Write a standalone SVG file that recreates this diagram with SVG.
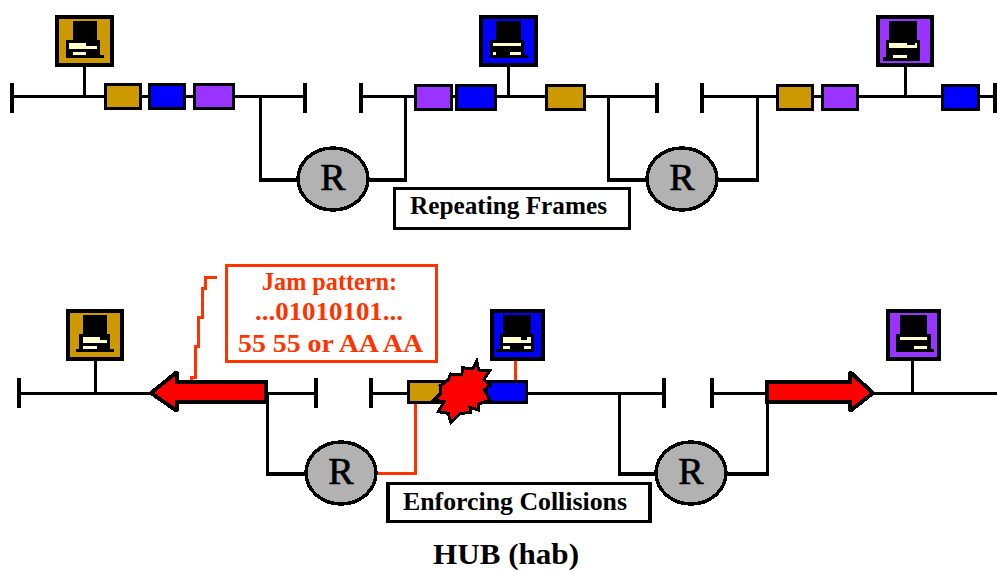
<svg xmlns="http://www.w3.org/2000/svg" width="997" height="571" viewBox="0 0 997 571">
<style>
rect,path,ellipse{shape-rendering:crispEdges}
.l{fill:none;stroke:#000;stroke-width:3}
.h{fill:none;stroke:#000;stroke-width:4}
.d{fill:none;stroke:#000;stroke-width:3.500}
.o{fill:none;stroke:#ff3300;stroke-width:3}
.f{stroke:#000;stroke-width:3}
.s{stroke:#000;stroke-width:4}
.g{fill:#cc9900}.b{fill:#0000ff}.p{fill:#9933ff}
.k{fill:#000}.c{fill:#ffffcc}
.hub{fill:#b2b2b2;stroke:#000;stroke-width:3.500}
.r{font:400 38px "Liberation Serif",serif;fill:#000;stroke:#000;stroke-width:.7;text-anchor:middle}
.t{font:700 25px "Liberation Serif",serif;fill:#000}
.j{font:700 25px "Liberation Serif",serif;fill:#ff3300}
.box{fill:#fff;stroke:#000;stroke-width:3.500}
.arrow{fill:#ff0000;stroke:#000;stroke-width:4;stroke-miterlimit:2}
</style>
<g id="connectors">
<path class="l" d="M12 96.500H305M361 96.500H657M702 96.500H995"/>
<path class="d" d="M12 83V113M305 83V113M361 83V113M657 83V113M702 83V113M995 83V113"/>
<path class="l" d="M84.500 67V96M508.500 67V96M905 67V96"/>
<path class="l" d="M260.500 96V180M405.500 96V180M608.500 96V180M757 96V180"/>
<path class="h" d="M259 180H298M407 180H368M607 180H646M758.500 180H718"/>
<path class="l" d="M19 393H316M371 393H664M712 393H997"/>
<path class="d" d="M19 378V408M316 378V408M371 378V408M664 378V408M712 378V408"/>
<path class="l" d="M95 361V393M912 361V393"/>
<path class="l" d="M267.500 393V474M619 393V474M767 393V474"/>
<path class="h" d="M266 474H305M617.500 474H656M768.500 474H727"/>
<path class="o" d="M415.500 403V473.500H378M515.500 358V381"/>
<path class="o" d="M217 277H205.500V288H202V317H198.500V346H195V377H191.500V386"/>
</g>
<g id="frames-top">
<rect class="f g" x="105.500" y="84.500" width="35" height="24"/>
<rect class="f b" x="149.500" y="84.500" width="35" height="24"/>
<rect class="f p" x="194.500" y="84.500" width="39" height="24"/>
<rect class="f p" x="415.500" y="85" width="36" height="24"/>
<rect class="f b" x="456.500" y="85" width="39" height="24"/>
<rect class="f g" x="546.500" y="85" width="38" height="24"/>
<rect class="f g" x="777.500" y="85" width="35" height="24"/>
<rect class="f p" x="822.500" y="85" width="35" height="24"/>
<rect class="f b" x="942.500" y="85" width="36" height="24"/>
</g>
<g id="station-top-1"><rect class="s g" x="57" y="17" width="55" height="48"/>
<path class="k" d="M73 21h24v19h3v15h4v3H66V40h7z"/>
<path class="c" d="M69 43h17v3h11v3H69zM73 52h13v3H73z"/></g>
<g id="station-top-2"><rect class="s b" x="481" y="17" width="55" height="48"/>
<path class="k" d="M496 21h25v19h3v15h4v3H490V40h6z"/>
<path class="c" d="M493 43h28v3h-28zM493 52h3v3h-3zM510 52h11v3h-11z"/></g>
<g id="station-top-3"><rect class="s p" x="878" y="17" width="54" height="48"/>
<path class="k" d="M889 21h28v19h3v21H883v-4h3V40h3z"/>
<path class="c" d="M889 43h18v2h8v-2h2v5h-28zM893 55h14v3h-14z"/></g>
<g id="repeater-top-1"><ellipse class="hub" cx="333" cy="179" rx="35" ry="31"/><text class="r" x="333" y="190">R</text></g>
<g id="repeater-top-2"><ellipse class="hub" cx="682" cy="179" rx="35" ry="31"/><text class="r" x="682" y="190">R</text></g>
<g id="label-repeating"><rect class="box" x="394.500" y="188.500" width="235" height="40"/><text class="t" x="410" y="214" textLength="197" lengthAdjust="spacingAndGlyphs">Repeating Frames</text></g>
<g id="station-bottom-1"><rect class="s g" x="68" y="311" width="54" height="48"/>
<path class="k" d="M83 315h24v19h3v15h4v3H76v-3h3v-15h4z"/>
<path class="c" d="M83 337h17v3h7v3H83zM83 346h14v3H83z"/></g>
<g id="station-bottom-2"><rect class="s b" x="492" y="311" width="51" height="48"/>
<path class="k" d="M503 315h28v19h3v18H496v-3h4v-15h3z"/>
<path class="c" d="M503 337h18v3h6v-3h4v6h-28zM503 346h7v3h-7zM524 346h7v3h-7z"/></g>
<g id="station-bottom-3"><rect class="s p" x="888" y="311" width="51" height="48"/>
<path class="k" d="M900 315h27v19h4v15h3v3H896v-18h4z"/>
<path class="c" d="M900 337h27v3h-27zM914 346h13v3h-13z"/></g>
<g id="jam-arrow"><path class="arrow" d="M151 393L177 372V382H266V402H177V411Z"/></g>
<g id="right-arrow"><path class="arrow" d="M873 393L850 372V382H767V402H850V411Z"/></g>
<g id="frame-gold"><rect class="f g" x="408.500" y="381.500" width="36" height="21"/></g>
<g id="frame-blue"><rect class="f b" x="486" y="381.500" width="40.500" height="21"/></g>
<g id="collision"><path d="M476.700 361L478.700 370L490 370.300L484 379.300L490 385L484 390L490 400L478.700 404L478.700 410L470 407.300L470.700 412.700L460 413.300L451 422.700L448.300 413.300L438.300 411.700L444 401.700L434 400L440.700 393.300L440 386L448.300 380L450.700 374L461.700 375L462.700 367.700L472.700 369Z" fill="#ff0000" stroke="#000" stroke-width="3" stroke-miterlimit="3"/></g>
<g id="repeater-bottom-1"><ellipse class="hub" cx="341" cy="473" rx="35" ry="31"/><text class="r" x="341" y="484">R</text></g>
<g id="repeater-bottom-2"><ellipse class="hub" cx="691" cy="473" rx="35" ry="31"/><text class="r" x="691" y="484">R</text></g>
<g id="jam-box"><rect x="226.500" y="265.500" width="210" height="96" fill="#fff" stroke="#ff3300" stroke-width="3.500"/>
<text class="j" x="262" y="290" textLength="135" lengthAdjust="spacingAndGlyphs">Jam pattern:</text>
<text class="j" x="255" y="320" textLength="148" lengthAdjust="spacingAndGlyphs">...01010101...</text>
<text class="j" x="238" y="352" textLength="185" lengthAdjust="spacingAndGlyphs">55 55 or AA AA</text></g>
<g id="label-enforcing"><rect class="box" x="388" y="483.500" width="262" height="38"/><text class="t" x="403" y="510" textLength="224" lengthAdjust="spacingAndGlyphs">Enforcing Collisions</text></g>
<text x="433" y="564" font-family="'Liberation Serif',serif" font-weight="700" font-size="29" textLength="146" lengthAdjust="spacingAndGlyphs">HUB (hab)</text>
</svg>
